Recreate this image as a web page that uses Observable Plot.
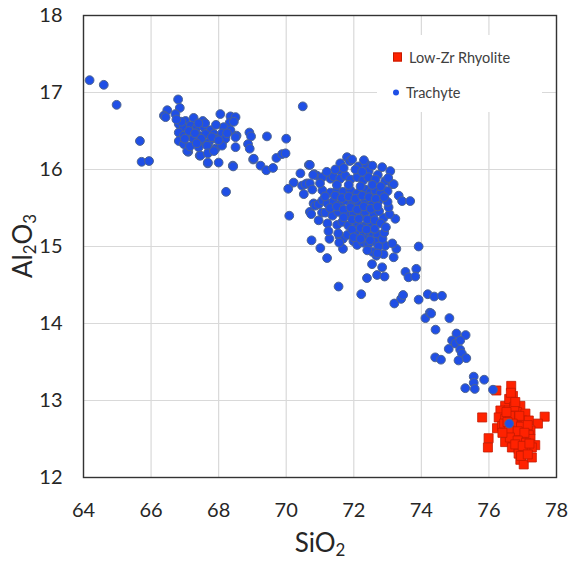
<!DOCTYPE html>
<html><head><meta charset="utf-8">
<script src="https://cdn.jsdelivr.net/npm/d3@7"></script>
<script src="https://cdn.jsdelivr.net/npm/@observablehq/plot@0.6"></script>
<style>
body{margin:0;background:#fff;}
#wrap{position:relative;width:569px;height:564px;font-family:Lato,"Open Sans",sans-serif;color:#262626;}
#wrap svg{display:block;}
.ttl{position:absolute;font-size:26px;line-height:1;white-space:nowrap;color:#262626;}
.ttl sub{font-size:0.65em;vertical-align:-0.25em;line-height:0;}
#legend{position:absolute;left:377px;top:35px;width:165px;height:77px;background:#fff;font-size:14.5px;color:#404040;}
.li{position:absolute;left:16px;display:flex;align-items:center;white-space:nowrap;}
.sw{display:inline-block;margin-right:7px;}
</style></head><body>
<div id="wrap"></div>
<script>
const xTicks = [64, 66, 68, 70, 72, 74, 76, 78];
const yTicks = [12, 13, 14, 15, 16, 17, 18];
const seriesNames = ["Low-Zr Rhyolite", "Trachyte"];
const xTitle = "SiO<sub>2</sub>";
const yTitle = "Al<sub>2</sub>O<sub>3</sub>";

// Trachyte: [SiO2, Al2O3]
const trachyte = [
[64.18,17.16],[64.60,17.10],[64.98,16.84],[65.67,16.37],[65.72,16.10],[65.94,16.11],
[66.80,16.91],[66.85,16.80],[66.48,16.77],[66.38,16.70],[66.43,16.68],
[68.05,16.72],[70.49,16.82],[68.22,15.71],[68.42,16.05],[68.00,16.09],[67.68,16.08],[67.10,16.23],[67.44,16.18],
[66.72,16.72],[67.02,16.63],[67.26,16.67],[67.53,16.63],[68.35,16.69],[68.50,16.68],[68.33,16.61],
[66.82,16.59],[66.97,16.55],[67.17,16.57],[67.36,16.55],[67.56,16.55],[67.76,16.51],
[68.15,16.55],[68.35,16.51],[68.53,16.44],[68.91,16.48],[68.96,16.43],[69.43,16.43],[70.00,16.40],
[66.82,16.48],[66.97,16.44],[67.21,16.42],[67.41,16.44],[67.61,16.46],[67.86,16.46],[68.10,16.47],
[66.82,16.37],[66.97,16.33],[67.26,16.40],[67.51,16.37],[67.71,16.35],[67.91,16.40],[68.10,16.35],[68.20,16.40],[68.50,16.42],
[67.07,16.24],[67.41,16.29],[67.66,16.31],[67.91,16.27],[68.10,16.31],
[67.46,16.18],[67.68,16.21],[67.86,16.24],[67.68,16.09],[68.43,16.04],[68.50,16.29],[68.87,16.33],[68.92,16.27],
[69.02,16.13],[69.24,16.05],[69.41,15.99],[69.61,16.02],[69.71,16.15],[69.88,16.20],[69.98,16.21],
[66.90,16.62],[67.12,16.50],[67.30,16.47],[67.48,16.40],[67.60,16.60],[67.80,16.42],[68.00,16.38],[67.00,16.40],
[67.15,16.30],[67.35,16.34],[68.25,16.47],[67.92,16.58],[66.75,16.65],[67.40,16.60],[68.45,16.62],
[70.42,15.95],[70.22,15.83],[70.06,15.75],[70.47,15.79],[70.62,15.82],[70.67,16.06],[69.04,16.14],
[70.70,16.06],[70.57,15.81],[70.70,15.82],[70.52,15.68],[70.83,15.94],[70.91,15.92],[70.70,15.45],[70.74,15.42],[70.09,15.40],
[70.81,15.56],[70.86,15.53],[70.96,15.55],[71.06,15.44],[70.96,15.34],[70.75,15.08],[71.01,14.98],[71.21,14.85],
[71.28,15.10],[71.58,15.13],[71.68,15.10],[71.68,14.97],[71.55,14.48],[72.22,14.38],[72.39,14.59],[72.69,14.63],
[72.91,14.61],[72.54,14.77],[72.84,14.73],[72.67,14.88],[72.88,14.90],[73.18,14.86],[72.93,15.01],[73.26,14.97],
[73.92,15.00],[73.53,14.67],[73.62,14.60],[73.85,14.71],[73.82,14.61],[73.23,15.36],[72.88,15.37],[73.06,15.42],
[73.03,15.51],[73.33,15.66],[73.43,15.59],[73.67,15.59],[73.08,15.98],[73.13,15.81],[72.93,15.72],[72.84,16.03],
[71.80,16.16],[71.88,16.11],[71.60,16.08],[71.62,15.98],[72.14,16.04],[72.37,16.07],[72.44,15.98],[72.71,15.93],
[72.93,15.85],[73.18,15.81],[73.00,15.72],
[70.80,15.93],[71.07,15.90],[71.31,15.88],[71.40,15.91],[71.60,15.88],[71.75,15.92],[71.90,15.87],[72.10,15.90],
[72.28,15.86],[72.43,15.90],[72.64,15.87],[73.02,15.89],
[70.77,15.74],[71.07,15.73],[71.31,15.70],[71.51,15.74],[71.69,15.71],[71.90,15.73],[72.10,15.69],[72.34,15.74],
[72.49,15.70],[72.64,15.73],[72.79,15.69],
[71.07,15.60],[71.22,15.56],[71.40,15.59],[71.60,15.55],[71.75,15.60],[71.96,15.57],[72.14,15.55],[72.34,15.60],
[72.55,15.56],[72.73,15.59],[73.00,15.58],
[71.16,15.44],[71.37,15.40],[71.54,15.45],[71.81,15.41],[71.99,15.44],[72.20,15.40],[72.34,15.45],[72.58,15.41],[72.75,15.46],
[71.22,15.30],[71.51,15.28],[71.66,15.32],[71.84,15.27],[72.10,15.30],[72.28,15.26],[72.49,15.31],
[71.25,15.20],[71.54,15.17],[71.81,15.15],[72.10,15.18],[72.28,15.14],[72.43,15.19],[72.55,15.13],[72.70,15.16],
[71.57,15.05],[71.99,15.07],[72.10,15.02],[72.28,15.05],[72.43,15.03],[72.64,15.06],[72.73,15.00],[73.14,15.04],
[72.55,14.93],[72.70,14.91],[72.40,14.95],
[71.95,16.13],[72.05,16.00],[72.25,15.97],[71.70,16.02],[72.55,16.05],[72.30,16.12],[71.45,16.00],[71.20,15.97],
[71.00,15.82],[71.50,15.80],[71.85,15.80],[72.20,15.78],[72.55,15.80],[72.80,15.78],[71.15,15.65],[71.45,15.66],
[71.65,15.63],[71.85,15.65],[72.05,15.62],[72.25,15.66],[72.45,15.64],[72.65,15.62],[72.90,15.64],[71.30,15.50],
[71.50,15.52],[71.70,15.48],[71.90,15.51],[72.10,15.48],[72.30,15.52],[72.50,15.49],[72.70,15.52],[71.70,15.38],
[71.95,15.35],[72.15,15.36],[72.40,15.35],[72.62,15.34],[71.95,15.22],[72.20,15.24],[72.38,15.22],[72.62,15.23],
[72.00,15.12],[72.20,15.10],[72.48,15.08],[72.85,15.10],[72.90,15.18],[72.80,15.30],[72.95,15.25],
[73.20,14.26],[73.40,14.32],[73.46,14.37],[73.92,14.31],[74.19,14.38],[74.38,14.35],[74.61,14.36],[74.12,14.07],
[74.25,14.14],[74.29,14.13],[74.83,14.07],[74.42,13.92],[75.04,13.87],[75.31,13.85],[74.91,13.78],[75.01,13.74],
[75.15,13.78],[74.81,13.67],[75.15,13.66],[75.20,13.61],[75.33,13.55],[75.10,13.52],[74.41,13.56],[74.58,13.53],
[75.55,13.31],[75.55,13.23],[75.86,13.27],[75.30,13.16],[75.58,13.15],[76.12,13.14],[76.60,12.70]
];

// Low-Zr Rhyolite: [SiO2, Al2O3]
const rhyolite = [
[76.66,13.19],[75.80,12.78],[75.99,12.51],[75.97,12.39],[77.65,12.79],[77.45,12.70],[76.22,13.13],[76.24,12.64],
[76.93,12.23],[77.03,12.17],[77.27,12.26],
[76.71,13.06],[76.68,12.98],[76.48,12.93],[76.93,12.93],[76.34,12.87],[76.58,12.87],[76.83,12.85],[77.08,12.83],
[76.29,12.78],[76.48,12.76],[76.73,12.78],[76.98,12.74],[77.18,12.74],[76.39,12.67],[76.83,12.67],[77.08,12.65],
[77.23,12.61],[76.53,12.59],[76.73,12.59],[76.93,12.57],[77.18,12.55],[76.48,12.46],[76.73,12.50],[76.98,12.48],
[77.23,12.50],[77.37,12.42],[76.68,12.39],[76.88,12.37],[77.08,12.37],[77.27,12.39],[76.88,12.31],[77.08,12.33],
[76.60,13.02],[76.75,12.92],[76.62,12.80],[76.90,12.80],[76.45,12.70],[76.70,12.70],[76.95,12.66],[77.15,12.68],
[76.60,12.62],[76.85,12.60],[77.05,12.58],[76.62,12.52],[76.85,12.48],[77.10,12.45],[76.78,12.43],[77.00,12.41],
[77.20,12.44],[76.95,12.28],[77.15,12.30],[76.40,12.58],[76.55,12.72],[76.78,12.98],[76.65,13.10],[76.52,12.85]
];

const colors = {rhy: "#ff2200", rhyStroke: "#c41a00", tra: "#1f4fe6", traStroke: "#4d6490"};

const chart = Plot.plot({
  width: 569, height: 564,
  marginLeft: 83, marginRight: 13, marginTop: 15, marginBottom: 87,
  x: {domain: [64, 78]},
  y: {domain: [12, 18]},
  style: {fontFamily: "Lato, 'Open Sans', sans-serif", background: "#fff", color: "#262626"},
  marks: [
    Plot.gridX(xTicks, {stroke: "#d9d9d9", strokeOpacity: 1, strokeWidth: 1.2}),
    Plot.gridY(yTicks, {stroke: "#d9d9d9", strokeOpacity: 1, strokeWidth: 1.2}),
    Plot.axisX(xTicks, {tickSize: 0, tickPadding: 25, fontSize: 20, label: null, tickFormat: d => String(d)}),
    Plot.axisY(yTicks, {tickSize: 0, tickPadding: 21, fontSize: 20, label: null, tickFormat: d => String(d)}),
    Plot.dot(rhyolite, {x: d => d[0], y: d => d[1], symbol: "square", r: 5.1, fill: colors.rhy, stroke: colors.rhyStroke, strokeWidth: 0.8}),
    Plot.dot(trachyte, {x: d => d[0], y: d => d[1], r: 4.4, fill: colors.tra, stroke: colors.traStroke, strokeWidth: 1}),
    Plot.frame({stroke: "#333", strokeWidth: 1.4})
  ]
});

const wrap = document.getElementById("wrap");
wrap.appendChild(chart);

const xt = document.createElement("div");
xt.className = "ttl";
xt.innerHTML = xTitle;
xt.style.left = "320px"; xt.style.top = "529px"; xt.style.transform = "translateX(-50%)";
wrap.appendChild(xt);

const yt = document.createElement("div");
yt.className = "ttl";
yt.innerHTML = yTitle;
yt.style.left = "22px"; yt.style.top = "246px"; yt.style.transform = "translate(-50%,-50%) rotate(-90deg)";
wrap.appendChild(yt);

const lg = document.createElement("div");
lg.id = "legend";
lg.innerHTML =
  `<div class="li" style="top:22px;transform:translateY(-50%)"><span class="sw" style="width:7px;height:7px;background:${colors.rhy};border:0.5px solid ${colors.rhyStroke}"></span>${seriesNames[0]}</div>` +
  `<div class="li" style="top:57px;transform:translateY(-50%)"><span class="sw" style="width:6px;height:6px;border-radius:50%;background:${colors.tra}"></span>${seriesNames[1]}</div>`;
wrap.appendChild(lg);
</script>
</body></html>
